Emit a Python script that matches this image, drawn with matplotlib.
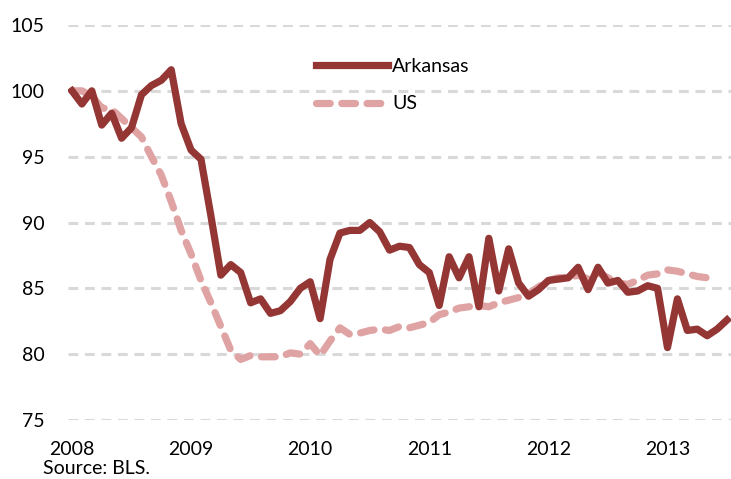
import numpy as np
import matplotlib
matplotlib.use("Agg")
import matplotlib.pyplot as plt

# monthly index, Jan 2008 = 100
arkansas = [100.0, 99.0, 100.0, 97.4, 98.3, 96.4, 97.2, 99.7, 100.4, 100.8,
            101.6, 97.5, 95.5, 94.8, 90.5, 86.0, 86.8, 86.2, 83.9, 84.2,
            83.1, 83.3, 84.0, 85.0, 85.5, 82.7, 87.2, 89.2, 89.4, 89.4,
            90.0, 89.3, 87.9, 88.2, 88.1, 86.8, 86.2, 83.7, 87.4, 85.8,
            87.4, 83.6, 88.8, 84.8, 88.0, 85.4, 84.4, 84.9, 85.6, 85.7,
            85.8, 86.6, 84.9, 86.6, 85.4, 85.6, 84.7, 84.8, 85.2, 85.0,
            80.5, 84.2, 81.8, 81.9, 81.4, 81.9, 82.6]
us = [100.0, 100.0, 99.6, 98.7, 98.6, 97.9, 97.2, 96.5, 95.0, 93.6,
      91.6, 89.4, 87.6, 85.6, 83.9, 82.1, 80.3, 79.6, 79.9, 79.8,
      79.8, 79.8, 80.1, 80.0, 80.8, 79.9, 81.0, 82.0, 81.5, 81.6,
      81.8, 81.9, 81.8, 82.1, 82.0, 82.2, 82.4, 83.0, 83.2, 83.5,
      83.6, 83.7, 83.6, 83.9, 84.1, 84.3, 84.6, 85.1, 85.6, 85.8,
      85.8, 86.0, 85.7, 86.2, 85.8, 85.4, 85.3, 85.6, 86.0, 86.1,
      86.4, 86.3, 86.1, 85.9, 85.8, 85.7]
years = ["2008", "2009", "2010", "2011", "2012", "2013"]
yticks = [75, 80, 85, 90, 95, 100, 105]

plt.rcParams['font.family'] = ['Lato', 'DejaVu Sans']

fig = plt.figure(figsize=(7.31, 4.79), dpi=100)
ax = fig.add_axes([68 / 731, 1 - 420 / 479, 1 - 68 / 731, (420 - 25) / 479])

for v in yticks:
    ax.axhline(v, color="#d9d9d9", lw=2.2, ls=(0, (3.2, 2.2)), zorder=0)

ax.plot(np.arange(len(arkansas)), arkansas, color="#943634", lw=5.2,
        solid_joinstyle="round", label="Arkansas", zorder=3)
ax.plot(np.arange(len(us)), us, color="#e0a3a4", lw=5.2,
        ls=(0, (1.9, 1.6)), dash_capstyle="round", label="US", zorder=2)

ax.set_xlim(-0.4, 66.4)
ax.set_ylim(75, 105)
ax.set_yticks(yticks)
ax.set_xticks(np.arange(len(years)) * 12)
ax.set_xticklabels(years)
ax.tick_params(axis="both", length=0, labelsize=14, colors="black")
ax.tick_params(axis="y", pad=17)
ax.tick_params(axis="x", pad=15)
for s in ax.spines.values():
    s.set_visible(False)

leg = ax.legend(loc="upper left", bbox_to_anchor=(0.347, 0.961), frameon=False,
                fontsize=14, handlelength=3.75, handletextpad=0.2,
                labelspacing=1.05)

fig.text(43 / 731, 1 - 468 / 479, "Source: BLS.", fontsize=14, va="center")

fig.savefig("out.png", dpi=100)
